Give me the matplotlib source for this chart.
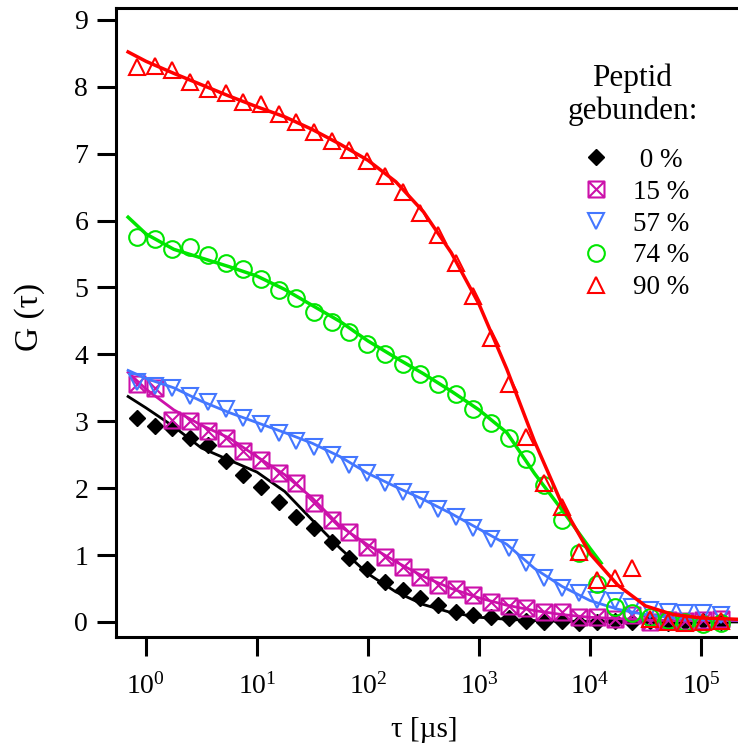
import numpy as np
import matplotlib
matplotlib.use('Agg')
import matplotlib.pyplot as plt
from matplotlib.path import Path

plt.rcParams['font.family'] = ['Liberation Serif', 'DejaVu Serif']
plt.rcParams['mathtext.fontset'] = 'custom'
plt.rcParams['mathtext.rm'] = 'Liberation Serif'
plt.rcParams['mathtext.it'] = 'Liberation Serif:italic'

# correlation times (us) of the measured points
tau = [0.83, 1.2, 1.73, 2.5, 3.61, 5.21, 7.52, 10.9, 15.7, 22.6, 32.7, 47.2,
       68.1, 98.2, 142, 205, 295, 426, 615, 888, 1280, 1850, 2670, 3850,
       5560, 8020, 11600, 16700, 24100, 34800, 50200, 72400, 104500, 150800]

g_0 = [3.05, 2.93, 2.90, 2.75, 2.65, 2.40, 2.20, 2.02, 1.80, 1.57, 1.41, 1.19,
       0.96, 0.79, 0.60, 0.48, 0.36, 0.25, 0.15, 0.10, 0.07, 0.06, 0.02, 0.00,
       0.01, -0.01, 0.00, 0.02, 0.00, 0.01, -0.01, 0.00, 0.01, 0.00]
g_15 = [3.55, 3.50, 3.02, 3.00, 2.85, 2.75, 2.56, 2.42, 2.22, 2.07, 1.78, 1.53,
        1.35, 1.12, 0.97, 0.82, 0.67, 0.55, 0.49, 0.40, 0.30, 0.24, 0.21, 0.15,
        0.15, 0.08, 0.08, 0.04, 0.10, 0.00, 0.03, 0.02, 0.03, 0.04]
g_57 = [3.58, 3.52, 3.50, 3.38, 3.29, 3.19, 3.05, 2.96, 2.83, 2.71, 2.62, 2.49,
        2.35, 2.23, 2.08, 1.95, 1.83, 1.69, 1.57, 1.41, 1.24, 1.11, 0.88, 0.66,
        0.51, 0.43, 0.33, 0.31, 0.22, 0.18, 0.15, 0.13, 0.13, 0.10]
g_74 = [5.75, 5.73, 5.57, 5.60, 5.48, 5.37, 5.28, 5.13, 4.96, 4.84, 4.64, 4.49,
        4.33, 4.16, 4.01, 3.86, 3.70, 3.55, 3.40, 3.19, 2.97, 2.75, 2.43, 2.04,
        1.53, 1.03, 0.57, 0.22, 0.13, 0.07, 0.03, 0.00, -0.03, -0.02]
g_90 = [8.29, 8.31, 8.25, 8.07, 7.96, 7.90, 7.77, 7.74, 7.59, 7.47, 7.32, 7.19,
        7.05, 6.89, 6.66, 6.42, 6.12, 5.78, 5.36, 4.87, 4.25, 3.55, 2.77, 2.07,
        1.72, 1.05, 0.63, 0.66, 0.81, 0.04, 0.00, -0.02, 0.00, 0.01]

# fit curves
fit_tau = [0.69, 1.0, 1.78, 3.16, 5.62, 10, 17.8, 31.6, 56.2, 100, 178, 316,
           562, 1000, 1780, 3160, 5620, 10000, 17800, 31600, 56200, 100000,
           215000]
fit_0 = [3.37, 3.20, 2.92, 2.60, 2.42, 2.24, 1.95, 1.52, 1.10, 0.72, 0.45, 0.26,
         0.14, 0.07, 0.04, 0.02, 0.01, 0.01, 0.0, 0.0, 0.0, 0.0, 0.0]
fit_15 = [3.73, 3.48, 3.17, 2.94, 2.75, 2.47, 2.20, 1.85, 1.43, 1.15, 0.90, 0.68,
          0.50, 0.36, 0.25, 0.17, 0.11, 0.07, 0.05, 0.03, 0.02, 0.02, 0.02]
fit_57 = [3.76, 3.64, 3.50, 3.30, 3.13, 2.98, 2.83, 2.67, 2.47, 2.22, 2.02, 1.83,
          1.62, 1.39, 1.16, 0.80, 0.53, 0.32, 0.19, 0.11, 0.06, 0.04, 0.03]
fit_90 = [8.52, 8.38, 8.20, 8.03, 7.86, 7.70, 7.55, 7.36, 7.14, 6.90, 6.58, 6.13,
          5.52, 4.75, 3.78, 2.70, 1.75, 1.02, 0.55, 0.24, 0.11, 0.06, 0.04]
fit_tau_74 = [0.69, 1.0, 1.78, 3.16, 5.62, 10, 17.8, 31.6, 56.2, 100, 178, 316,
              562, 1000, 1780, 3160, 5620, 10000, 12600]
fit_74 = [6.05, 5.80, 5.57, 5.44, 5.31, 5.17, 4.97, 4.73, 4.49, 4.20, 3.95, 3.71,
          3.45, 3.17, 2.83, 2.22, 1.67, 1.10, 0.88]

labels = [' 0 %', '15 %', '57 %', '74 %', '90 %']
colors = ['black', '#cc11aa', '#4477ff', '#00e600', '#ff0000']

# square with a cross inside
boxx = Path([(-1, -1), (1, -1), (1, 1), (-1, 1), (-1, -1),
             (-1, -1), (1, 1), (-1, 1), (1, -1)],
            [Path.MOVETO, Path.LINETO, Path.LINETO, Path.LINETO, Path.CLOSEPOLY,
             Path.MOVETO, Path.LINETO, Path.MOVETO, Path.LINETO])

fig = plt.figure(figsize=(7.38, 7.49), dpi=100)
ax = fig.add_axes([0.1572, 0.1495, 0.8428, 0.8401])

handles = []
h, = ax.plot(tau, g_0, ls='none', marker='D', ms=8.5, color=colors[0])
handles.append(h)
ax.plot(fit_tau, fit_0, color=colors[0], lw=2)

h, = ax.plot(tau, g_15, ls='none', marker=boxx, ms=11.5, mfc='none',
             mec=colors[1], mew=1.5)
handles.append(h)
ax.plot(fit_tau, fit_15, color=colors[1], lw=2)

h, = ax.plot(tau, g_57, ls='none', marker='v', ms=12, mfc='none',
             mec=colors[2], mew=1.5)
handles.append(h)
ax.plot(fit_tau, fit_57, color=colors[2], lw=2)

h, = ax.plot(tau, g_74, ls='none', marker='o', ms=12, mfc='none',
             mec=colors[3], mew=1.5)
handles.append(h)
ax.plot(fit_tau_74, fit_74, color=colors[3], lw=2.5)

h, = ax.plot(tau, g_90, ls='none', marker='^', ms=12, mfc='none',
             mec=colors[4], mew=1.5)
handles.append(h)
ax.plot(fit_tau, fit_90, color=colors[4], lw=2.5)

ax.set_xscale('log')
ax.set_xlim(10 ** -0.27, 10 ** 5.333)
ax.set_ylim(-0.225, 9.18)

ax.set_xticks([1, 10, 100, 1000, 1e4, 1e5])
ax.set_xticklabels([r'$\mathrm{10^{%d}}$' % k for k in range(6)])
ax.xaxis.set_minor_locator(matplotlib.ticker.NullLocator())
ax.set_yticks(range(10))

for s in ['left', 'bottom', 'top']:
    ax.spines[s].set_linewidth(2.2)
ax.spines['right'].set_visible(False)
ax.tick_params(axis='both', direction='out', length=14, width=2.2,
               labelsize=20)
ax.tick_params(axis='x', pad=12)
ax.tick_params(axis='y', pad=6)

ax.set_ylabel('G (τ)', fontsize=24)
ax.yaxis.set_label_coords(-0.114, 0.509)
ax.set_xlabel('τ [µs]', fontsize=21)
ax.xaxis.set_label_coords(0.495, -0.127)

# legend title and entries
fig.text(0.857, 0.873, 'Peptid\ngebunden:', fontsize=22.5, ha='center',
         va='center', multialignment='center', linespacing=1.15)
leg = ax.legend(handles, labels, loc='upper left', frameon=False,
                fontsize=19.5, bbox_to_anchor=(0.747, 0.835),
                bbox_transform=fig.transFigure, handletextpad=0.6,
                labelspacing=0.25, handlelength=1.5, borderpad=0.4)

plt.savefig('out.png', dpi=100)
